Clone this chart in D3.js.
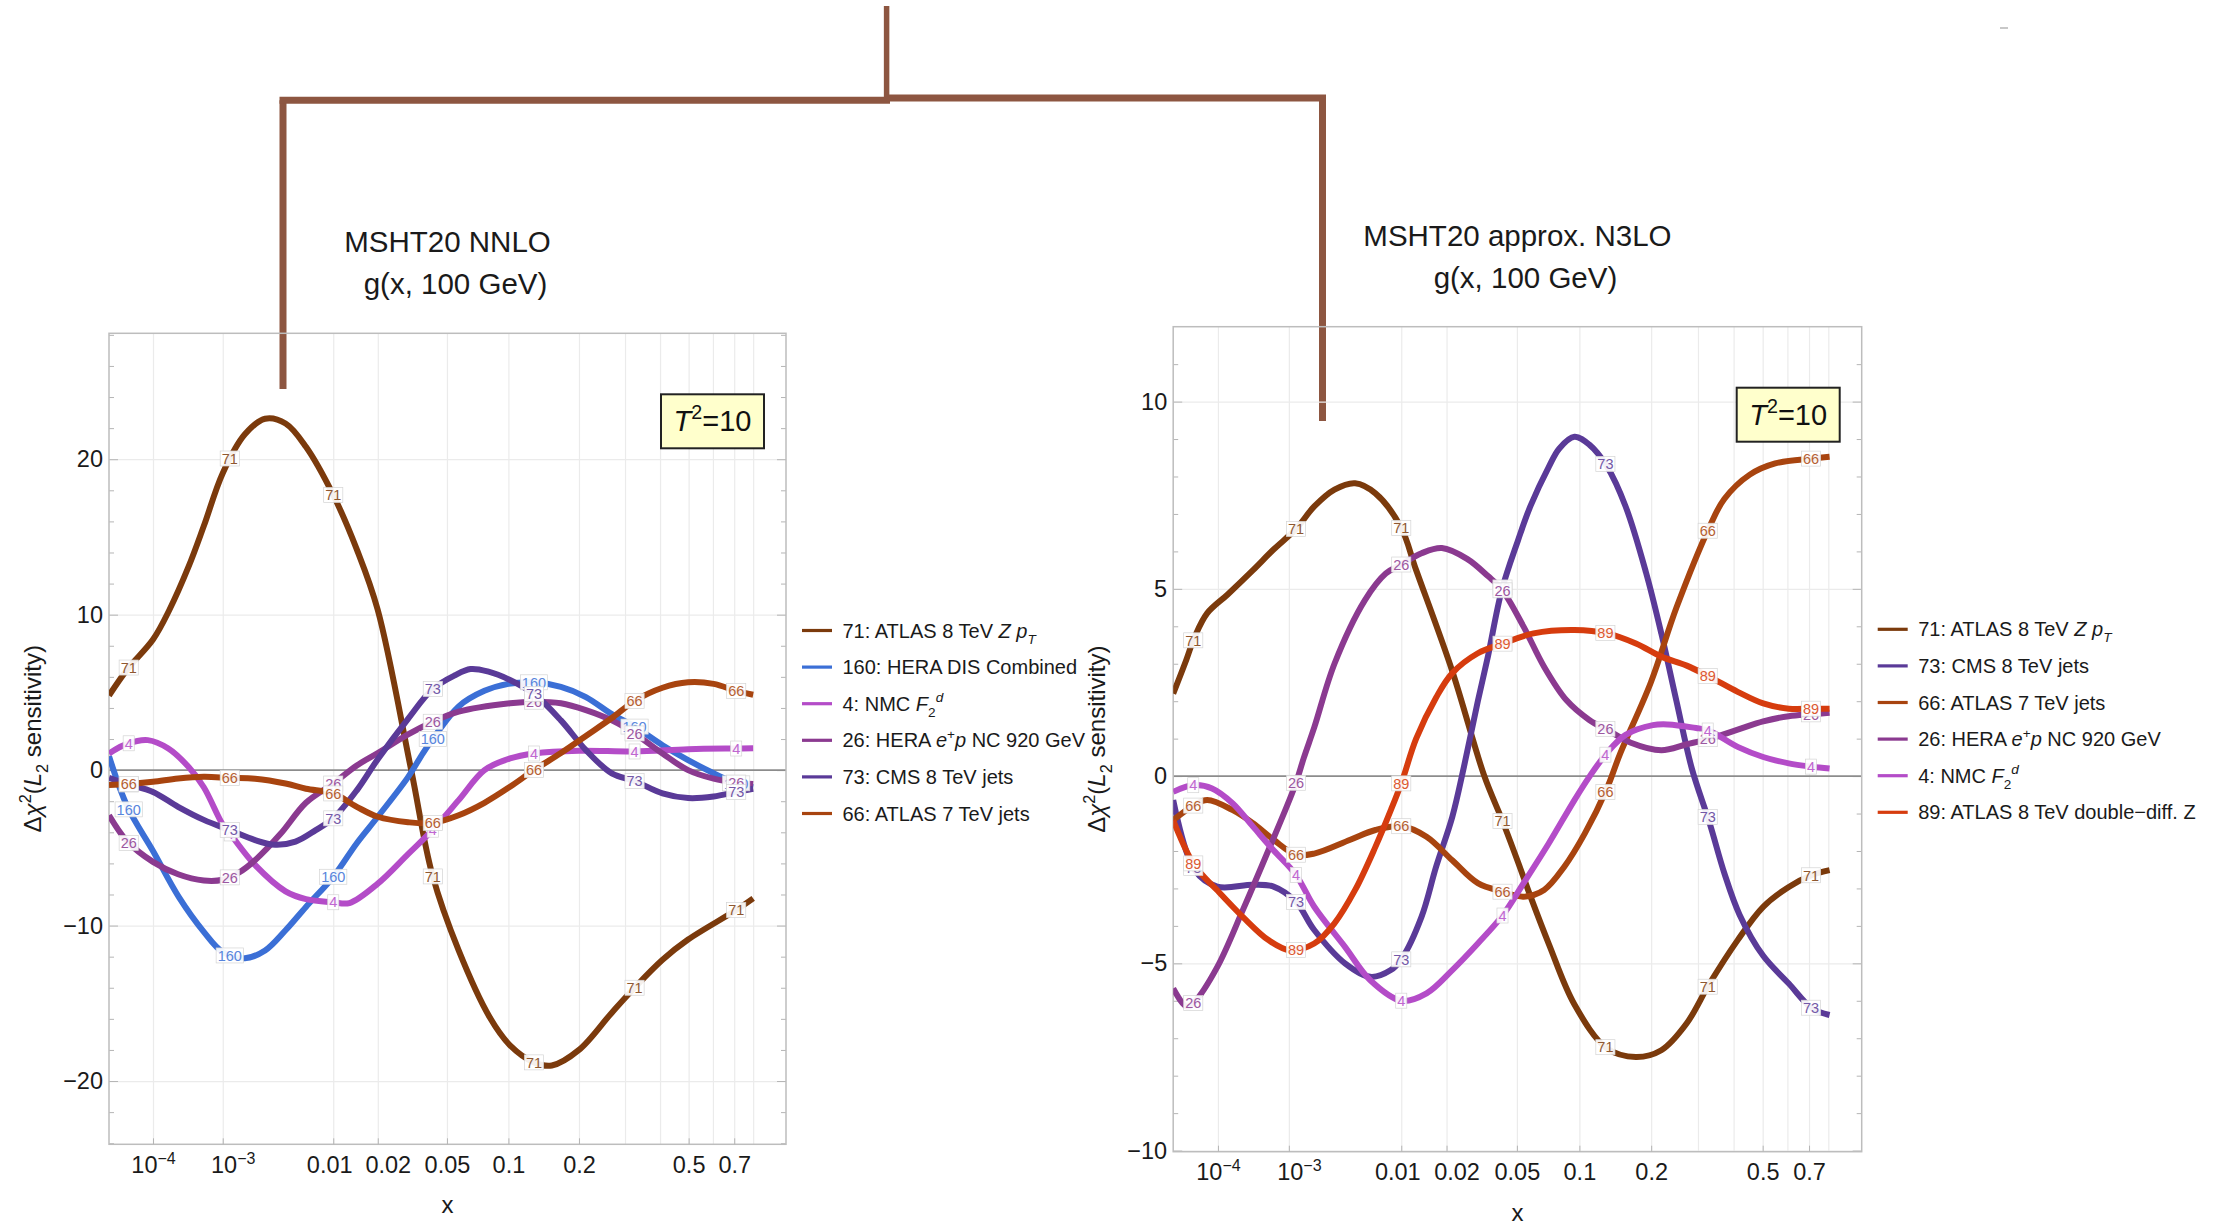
<!DOCTYPE html>
<html>
<head>
<meta charset="utf-8">
<script src="https://cdn.jsdelivr.net/npm/d3@7"></script>
<style>
  html, body { margin: 0; padding: 0; background: #fff; }
  svg text { font-family: "Liberation Sans", Arial, Helvetica, sans-serif; }
</style>
</head>
<body>
<svg id="fig" width="2238" height="1225"></svg>
<script>
// ---------------- axis ticks ----------------
const xTickValues = [1e-4, 1e-3, 0.01, 0.02, 0.05, 0.1, 0.2, 0.5, 0.7];
const xTickLabels = ["10^−4", "10^−3", "0.01", "0.02", "0.05", "0.1", "0.2", "0.5", "0.7"];
const xMinorValues = [0.3, 0.4, 0.6, 0.8];
const nnloYTicks = [-20, -10, 0, 10, 20];
const n3loYTicks = [-10, -5, 0, 5, 10];

// x positions where each curve carries its numbered badge
const badgeX = [3.2e-5, 1.2e-3, 0.01, 0.042, 0.13, 0.325, 0.71];

// ---------------- MSHT20 NNLO, g(x, 100 GeV) ----------------
const nnlo71 = [[1e-5,4.8],[3e-5,6.5],[1e-4,8.4],[1.9e-4,10.3],[3.7e-4,13.1],[5.9e-4,15.7],[1e-3,19.1],[1.74e-3,21.6],[2.75e-3,22.6],[4.2e-3,22.3],[6.2e-3,20.8],[0.01,17.7],[0.0146,14.2],[0.02,10.3],[0.0318,0],[0.0418,-6.75],[0.0575,-11.6],[0.0818,-15.9],[0.1017,-17.7],[0.13,-18.8],[0.155,-19.0],[0.2,-18.0],[0.268,-15.6],[0.325,-14.0],[0.408,-12.2],[0.498,-10.9],[0.71,-9.0],[0.8,-8.25]];
const nnlo160 = [[1e-5,0.9],[3e-5,-2.36],[1e-4,-5.2],[2.7e-4,-8.2],[5.9e-4,-10.4],[1e-3,-11.7],[1.74e-3,-12.1],[2.75e-3,-11.6],[4.2e-3,-10.3],[6.2e-3,-8.8],[0.01,-6.86],[0.0146,-4.7],[0.02,-3.0],[0.0305,-0.45],[0.0371,1.1],[0.0418,1.97],[0.0575,4.1],[0.0772,5.1],[0.1,5.55],[0.13,5.65],[0.169,5.35],[0.213,4.7],[0.268,3.6],[0.325,2.8],[0.408,1.6],[0.498,0.64],[0.603,-0.2],[0.71,-0.85],[0.8,-1.1]];
const nnlo4 = [[1e-5,1.07],[3e-5,1.7],[8e-5,1.93],[1.83e-4,1.39],[3.7e-4,0.2],[5.9e-4,-1.1],[1e-3,-3.5],[1.25e-3,-4.2],[2.2e-3,-6.1],[4.2e-3,-7.8],[6.2e-3,-8.3],[0.01,-8.5],[0.013,-8.55],[0.02,-7.3],[0.0305,-5.4],[0.0418,-3.86],[0.0575,-1.93],[0.0772,0.0],[0.1017,0.75],[0.13,1.07],[0.2,1.25],[0.325,1.2],[0.498,1.35],[0.71,1.39],[0.8,1.4]];
const nnlo26 = [[1e-5,-2.9],[3e-5,-4.6],[1e-4,-5.9],[2.6e-4,-6.7],[5.9e-4,-7.1],[1e-3,-7.05],[1.5e-3,-6.6],[2.2e-3,-5.8],[3.8e-3,-4.1],[6.2e-3,-2.1],[0.01,-0.86],[0.0146,0.3],[0.02,1.1],[0.0305,2.3],[0.0418,3.1],[0.0575,3.76],[0.1017,4.3],[0.13,4.4],[0.169,4.3],[0.213,3.86],[0.268,3.2],[0.325,2.36],[0.408,1.07],[0.498,0.0],[0.603,-0.55],[0.71,-0.8],[0.8,-0.9]];
const nnlo73 = [[1e-5,-0.5],[3e-5,-0.9],[1e-4,-1.4],[2.6e-4,-2.36],[5.9e-4,-3.2],[1.2e-3,-3.86],[2.2e-3,-4.5],[3.4e-3,-4.8],[5.1e-3,-4.6],[7.4e-3,-3.86],[0.01,-3.1],[0.0146,-1.3],[0.02,0.7],[0.0305,3.3],[0.0418,5.2],[0.055,6.1],[0.066,6.5],[0.08,6.35],[0.1017,5.8],[0.13,4.9],[0.169,3.2],[0.213,1.29],[0.268,-0.21],[0.325,-0.7],[0.408,-1.5],[0.498,-1.8],[0.603,-1.7],[0.71,-1.4],[0.8,-1.2]];
const nnlo66 = [[1e-5,-0.96],[3e-5,-0.9],[1e-4,-0.75],[2.6e-4,-0.54],[5.9e-4,-0.43],[1.2e-3,-0.5],[2.2e-3,-0.55],[4.2e-3,-0.86],[6.2e-3,-1.2],[0.01,-1.5],[0.0146,-2.36],[0.02,-3.0],[0.0305,-3.35],[0.0418,-3.4],[0.0575,-2.9],[0.0772,-2.1],[0.1017,-1.07],[0.13,0.0],[0.169,1.1],[0.213,2.2],[0.268,3.35],[0.325,4.45],[0.408,5.3],[0.498,5.65],[0.603,5.55],[0.71,5.1],[0.8,4.85]];

// ---------------- MSHT20 approx. N3LO, g(x, 100 GeV) ----------------
const n3lo71 = [[1e-5,2.2],[2.2e-5,3.1],[3.4e-5,3.7],[6.3e-5,4.35],[1.47e-4,4.85],[3.56e-4,5.5],[6.6e-4,6.05],[1.2e-3,6.6],[1.86e-3,7.2],[2.9e-3,7.65],[4.4e-3,7.82],[6.42e-3,7.55],[0.0099,6.66],[0.0127,5.5],[0.0217,2.8],[0.0334,0],[0.0417,-1.16],[0.0507,-2.3],[0.0585,-3.2],[0.0723,-4.5],[0.095,-6.1],[0.132,-7.27],[0.174,-7.5],[0.219,-7.32],[0.273,-6.6],[0.33,-5.54],[0.413,-4.38],[0.502,-3.49],[0.606,-2.96],[0.714,-2.64],[0.807,-2.51]];
const n3lo73 = [[1e-5,-0.64],[3.4e-5,-2.5],[9.7e-5,-2.95],[3.56e-4,-2.9],[6.6e-4,-2.95],[1.2e-3,-3.36],[1.86e-3,-4.11],[3.6e-3,-5.0],[5.85e-3,-5.36],[8.4e-3,-5.18],[0.0101,-4.87],[0.0138,-3.76],[0.0172,-2.42],[0.0217,-1.09],[0.0255,0.25],[0.0307,2.0],[0.035,3.2],[0.0417,4.98],[0.0507,6.3],[0.0585,7.2],[0.0723,8.27],[0.0809,8.75],[0.095,9.06],[0.1107,8.85],[0.132,8.27],[0.158,7.2],[0.191,5.43],[0.219,3.81],[0.25,2.0],[0.285,0.2],[0.33,-1.25],[0.372,-2.6],[0.419,-3.7],[0.502,-4.8],[0.606,-5.54],[0.714,-6.2],[0.807,-6.38]];
const n3lo66 = [[1e-5,-1.18],[3.4e-5,-0.77],[6.3e-5,-0.64],[1.78e-4,-0.91],[3.56e-4,-1.26],[6.6e-4,-1.7],[1.2e-3,-2.1],[1.86e-3,-2.07],[4e-3,-1.7],[6.42e-3,-1.44],[0.0101,-1.34],[0.0149,-1.62],[0.0217,-2.25],[0.0307,-2.86],[0.0422,-3.09],[0.0541,-3.22],[0.0684,-3.04],[0.0853,-2.42],[0.1058,-1.53],[0.132,-0.33],[0.15,0.6],[0.1994,2.5],[0.25,4.5],[0.33,6.66],[0.3716,7.4],[0.4536,8.05],[0.5488,8.35],[0.714,8.48],[0.807,8.53]];
const n3lo26 = [[1e-5,-5.67],[2.26e-5,-6.16],[3.4e-5,-6.03],[9.7e-5,-5.1],[2.54e-4,-3.58],[5.7e-4,-1.98],[1.16e-3,-0.28],[1.46e-3,0.5],[1.86e-3,1.3],[2.9e-3,3.0],[5.3e-3,4.7],[7.7e-3,5.41],[0.0099,5.64],[0.0138,5.95],[0.0187,6.09],[0.0266,5.8],[0.035,5.34],[0.0417,4.98],[0.0541,3.99],[0.0684,2.92],[0.0872,2.03],[0.1107,1.5],[0.132,1.24],[0.166,0.89],[0.219,0.69],[0.273,0.85],[0.33,1.0],[0.413,1.24],[0.502,1.46],[0.606,1.6],[0.714,1.65],[0.807,1.69]];
const n3lo4 = [[1e-5,-0.42],[3.4e-5,-0.24],[7.8e-5,-0.33],[1.78e-4,-0.73],[3.56e-4,-1.35],[6.6e-4,-1.98],[1.2e-3,-2.64],[1.86e-3,-3.49],[3.6e-3,-4.56],[5.85e-3,-5.45],[0.0101,-6.0],[0.0149,-5.8],[0.0217,-5.18],[0.0307,-4.47],[0.0422,-3.71],[0.0541,-2.86],[0.072,-1.8],[0.095,-0.64],[0.1107,-0.02],[0.132,0.62],[0.158,1.1],[0.203,1.36],[0.232,1.38],[0.285,1.3],[0.33,1.2],[0.413,0.78],[0.502,0.51],[0.606,0.34],[0.714,0.25],[0.807,0.2]];
const n3lo89 = [[1e-5,-1.18],[3.4e-5,-2.38],[9.7e-5,-3.05],[2.54e-4,-3.76],[5.7e-4,-4.38],[1.02e-3,-4.65],[1.86e-3,-4.47],[2.9e-3,-3.93],[4.4e-3,-3.04],[6.42e-3,-1.89],[8.4e-3,-0.91],[0.0101,-0.15],[0.0127,1.0],[0.0172,2.1],[0.0217,2.75],[0.0307,3.28],[0.0422,3.54],[0.0607,3.81],[0.095,3.9],[0.132,3.81],[0.174,3.54],[0.219,3.19],[0.273,2.95],[0.33,2.65],[0.413,2.25],[0.502,1.94],[0.606,1.8],[0.714,1.8],[0.807,1.8]];

// dataset order (drawing and legend order) per panel
const nnloIds = ["71", "160", "4", "26", "73", "66"];
const n3loIds = ["71", "73", "66", "26", "4", "89"];
const nnloData = { "71": nnlo71, "160": nnlo160, "4": nnlo4, "26": nnlo26, "73": nnlo73, "66": nnlo66 };
const n3loData = { "71": n3lo71, "73": n3lo73, "66": n3lo66, "26": n3lo26, "4": n3lo4, "89": n3lo89 };

const datasetColor = {
  "71": "#7b3a0c", "160": "#3b6fd6", "4": "#b44cc8", "26": "#8b3a90",
  "73": "#5a3a98", "66": "#a8440f", "89": "#d63c0e"
};
// legend names as styled text runs
const datasetName = {
  "71": [{t:"71: ATLAS 8 TeV "},{t:"Z",i:1},{t:" "},{t:"p",i:1},{t:"T",i:1,sub:1}],
  "160": [{t:"160: HERA DIS Combined"}],
  "4": [{t:"4: NMC "},{t:"F",i:1},{t:"2",sub:1},{t:"d",i:1,sup:1}],
  "26": [{t:"26: HERA "},{t:"e",i:1},{t:"+",sup:1},{t:"p",i:1},{t:" NC 920 GeV"}],
  "73": [{t:"73: CMS 8 TeV jets"}],
  "66": [{t:"66: ATLAS 7 TeV jets"}],
  "89": [{t:"89: ATLAS 8 TeV double−diff. Z"}]
};

// ---------------- drawing ----------------
const svg = d3.select("#fig");
const FONT_TICK = 23.5;
// small sideways nudges that keep crowded x tick labels apart
const xLabelNudge = { "10^−3": 10, "0.01": -4, "0.02": 10 };

function rich(sel, segs, size) {
  let cur = 0;
  segs.forEach(s => {
    const shift = s.sub ? size * 0.3 : s.sup ? -size * 0.42 : 0;
    const ts = sel.append("tspan").text(s.t).attr("dy", shift - cur);
    if (s.i) ts.attr("font-style", "italic");
    if (s.sub || s.sup) ts.attr("font-size", size * 0.68);
    cur = shift;
  });
}

// bracket joining the two panels
const bracket = svg.append("g").attr("fill", "none").attr("stroke", "#8d5641");
bracket.append("path").attr("d", "M283,389V100.3").attr("stroke-width", 7);
bracket.append("path").attr("d", "M279.5,100.3H890").attr("stroke-width", 7);
bracket.append("path").attr("d", "M886.6,6V100").attr("stroke-width", 5.5);
bracket.append("path").attr("d", "M886,98H1326").attr("stroke-width", 7);
bracket.append("path").attr("d", "M1322.5,98V421").attr("stroke-width", 7);
svg.append("line").attr("x1", 2000).attr("x2", 2008).attr("y1", 28).attr("y2", 28)
  .attr("stroke", "#c8c8c8").attr("stroke-width", 2);

const panels = [
  { key: "nnlo", x0: 109, x1: 786, y0: 333.3, y1: 1144.3, yDom: [-24.07, 28.1], yTicks: nnloYTicks,
    minorStep: 2, ids: nnloIds, data: nnloData, title: ["MSHT20 NNLO", "g(x, 100 GeV)"], legendTop: 630.5 },
  { key: "n3lo", x0: 1173.2, x1: 1861.7, y0: 326.7, y1: 1151.7, yDom: [-10.03, 12.0], yTicks: n3loYTicks,
    minorStep: 1, ids: n3loIds, data: n3loData, title: ["MSHT20 approx. N3LO", "g(x, 100 GeV)"], legendTop: 629.3 }
];

function yOnPath(node, px) {
  let lo = 0, hi = node.getTotalLength();
  for (let k = 0; k < 40; k++) {
    const mid = (lo + hi) / 2;
    if (node.getPointAtLength(mid).x < px) lo = mid; else hi = mid;
  }
  return node.getPointAtLength((lo + hi) / 2).y;
}

panels.forEach(cfg => {
  const W = cfg.x1 - cfg.x0, H = cfg.y1 - cfg.y0;
  const g = svg.append("g");
  const x = d3.scalePow().exponent(0.2).domain([1e-5, 1]).range([cfg.x0, cfg.x1]);
  const y = d3.scaleLinear().domain(cfg.yDom).range([cfg.y1, cfg.y0]);

  // vertical grid
  g.append("g").attr("transform", `translate(0,${cfg.y1})`)
    .call(d3.axisBottom(x).tickValues(xTickValues.concat(xMinorValues)).tickSize(-H).tickFormat(""))
    .call(s => { s.select(".domain").remove(); s.selectAll("line").attr("stroke", "#ebebeb").attr("stroke-width", 1.2); });
  // horizontal grid
  g.append("g").attr("transform", `translate(${cfg.x0},0)`)
    .call(d3.axisLeft(y).tickValues(cfg.yTicks.filter(v => v !== 0)).tickSize(-W).tickFormat(""))
    .call(s => { s.select(".domain").remove(); s.selectAll("line").attr("stroke", "#ebebeb").attr("stroke-width", 1.2); });

  // minor y ticks on both frame sides
  const minor = d3.range(Math.ceil(cfg.yDom[0] / cfg.minorStep) * cfg.minorStep, cfg.yDom[1], cfg.minorStep)
    .filter(v => !cfg.yTicks.includes(v) && Math.abs(v % (cfg.yTicks[1] - cfg.yTicks[0])) > 1e-9);
  [[d3.axisLeft, cfg.x0], [d3.axisRight, cfg.x1]].forEach(([ax, px]) => {
    g.append("g").attr("transform", `translate(${px},0)`)
      .call(ax(y).tickValues(minor).tickSize(-5).tickFormat(""))
      .call(s => { s.select(".domain").remove(); s.selectAll("line").attr("stroke", "#b5b5b5"); });
    g.append("g").attr("transform", `translate(${px},0)`)
      .call(ax(y).tickValues(cfg.yTicks).tickSize(-9).tickFormat(""))
      .call(s => { s.select(".domain").remove(); s.selectAll("line").attr("stroke", "#b5b5b5"); });
  });

  // zero line
  g.append("line").attr("x1", cfg.x0).attr("x2", cfg.x1).attr("y1", y(0)).attr("y2", y(0))
    .attr("stroke", "#8c8c8c").attr("stroke-width", 1.6);

  // frame
  g.append("rect").attr("x", cfg.x0).attr("y", cfg.y0).attr("width", W).attr("height", H)
    .attr("fill", "none").attr("stroke", "#bdbdbd").attr("stroke-width", 1.5);

  // x tick labels
  const xa = g.append("g").attr("transform", `translate(0,${cfg.y1})`)
    .call(d3.axisBottom(x).tickValues(xTickValues).tickSize(-6).tickPadding(12).tickFormat(""));
  xa.select(".domain").remove();
  xa.selectAll("line").attr("stroke", "#b5b5b5");
  xa.selectAll("text").each(function(d, i) {
    const lbl = xTickLabels[i];
    const t = d3.select(this).attr("font-size", FONT_TICK).attr("fill", "#1a1a1a")
      .attr("font-family", "'Liberation Sans', Arial, sans-serif")
      .attr("x", xLabelNudge[lbl] || 0);
    const parts = lbl.split("^");
    t.text(null);
    t.append("tspan").text(parts[0]);
    if (parts[1]) t.append("tspan").text(parts[1]).attr("font-size", 16).attr("dy", -9);
  });

  // y tick labels
  const ya = g.append("g").attr("transform", `translate(${cfg.x0},0)`)
    .call(d3.axisLeft(y).tickValues(cfg.yTicks).tickSize(0).tickPadding(6));
  ya.select(".domain").remove();
  ya.selectAll("text").attr("font-size", FONT_TICK).attr("fill", "#1a1a1a")
    .attr("font-family", "'Liberation Sans', Arial, sans-serif");

  // curves
  const clipId = "clip-" + cfg.key;
  svg.append("clipPath").attr("id", clipId).append("rect")
    .attr("x", cfg.x0).attr("y", cfg.y0).attr("width", W).attr("height", H);
  const line = d3.line().x(d => x(d[0])).y(d => y(d[1])).curve(d3.curveCatmullRom.alpha(0.5));
  const lines = g.append("g").attr("clip-path", `url(#${clipId})`);
  const nodes = {};
  cfg.ids.forEach(id => {
    nodes[id] = lines.append("path").datum(cfg.data[id]).attr("d", line)
      .attr("fill", "none").attr("stroke", datasetColor[id]).attr("stroke-width", 6)
      .attr("stroke-linejoin", "round").node();
  });

  // numbered badges along each curve
  const badges = g.append("g");
  cfg.ids.forEach(id => {
    const col = d3.interpolateRgb(datasetColor[id], "#ffffff")(0.15);
    badgeX.forEach(bx => {
      const px = x(bx), py = yOnPath(nodes[id], px);
      const b = badges.append("g").attr("transform", `translate(${px},${py})`);
      const r = b.append("rect");
      const t = b.append("text").text(id).attr("text-anchor", "middle").attr("dy", "0.36em")
        .attr("font-size", 14.5).attr("fill", col);
      const w = t.node().getComputedTextLength() + 3;
      r.attr("x", -w / 2).attr("y", -7.5).attr("width", w).attr("height", 15)
        .attr("fill", "#fff").attr("fill-opacity", 0.92).attr("stroke", "#d4d4d4").attr("stroke-width", 0.7);
    });
  });

  // T^2 box
  const bw = 103, bh = 54, bxp = cfg.x1 - 22 - bw, byp = cfg.y0 + 61;
  g.append("rect").attr("x", bxp).attr("y", byp).attr("width", bw).attr("height", bh)
    .attr("fill", "#ffffcc").attr("stroke", "#222").attr("stroke-width", 2);
  const tt = g.append("text").attr("x", bxp + bw / 2).attr("y", byp + bh / 2 + 10)
    .attr("text-anchor", "middle").attr("font-size", 29).attr("fill", "#111");
  rich(tt, [{t:"T",i:1},{t:"2",sup:1},{t:"=10"}], 29);

  // titles
  const cx = (cfg.x0 + cfg.x1) / 2;
  g.append("text").attr("x", cx).attr("y", cfg.y0 - 81).attr("text-anchor", "middle")
    .attr("font-size", 29.5).attr("fill", "#1a1a1a").text(cfg.title[0]);
  g.append("text").attr("x", cx + 8).attr("y", cfg.y0 - 39).attr("text-anchor", "middle")
    .attr("font-size", 29.5).attr("fill", "#1a1a1a").text(cfg.title[1]);

  // axis titles
  const yl = g.append("text").attr("transform", `translate(${cfg.x0 - 68},${(cfg.y0 + cfg.y1) / 2}) rotate(-90)`)
    .attr("text-anchor", "middle").attr("font-size", 24).attr("fill", "#1a1a1a");
  rich(yl, [{t:"Δ"},{t:"χ",i:1},{t:"2",sup:1},{t:"("},{t:"L",i:1},{t:"2",sub:1},{t:" sensitivity)"}], 24);
  g.append("text").attr("x", cx).attr("y", cfg.y1 + 69).attr("text-anchor", "middle")
    .attr("font-size", 24).attr("fill", "#1a1a1a").text("x");

  // legend
  const lg = g.append("g");
  cfg.ids.forEach((id, i) => {
    const ry = cfg.legendTop + i * 36.6;
    lg.append("line").attr("x1", cfg.x1 + 16).attr("x2", cfg.x1 + 46).attr("y1", ry).attr("y2", ry)
      .attr("stroke", datasetColor[id]).attr("stroke-width", 3.2);
    const lt = lg.append("text").attr("x", cfg.x1 + 56.5).attr("y", ry + 7)
      .attr("font-size", 20).attr("fill", "#1a1a1a");
    rich(lt, datasetName[id], 20);
  });
});
</script>
</body>
</html>
